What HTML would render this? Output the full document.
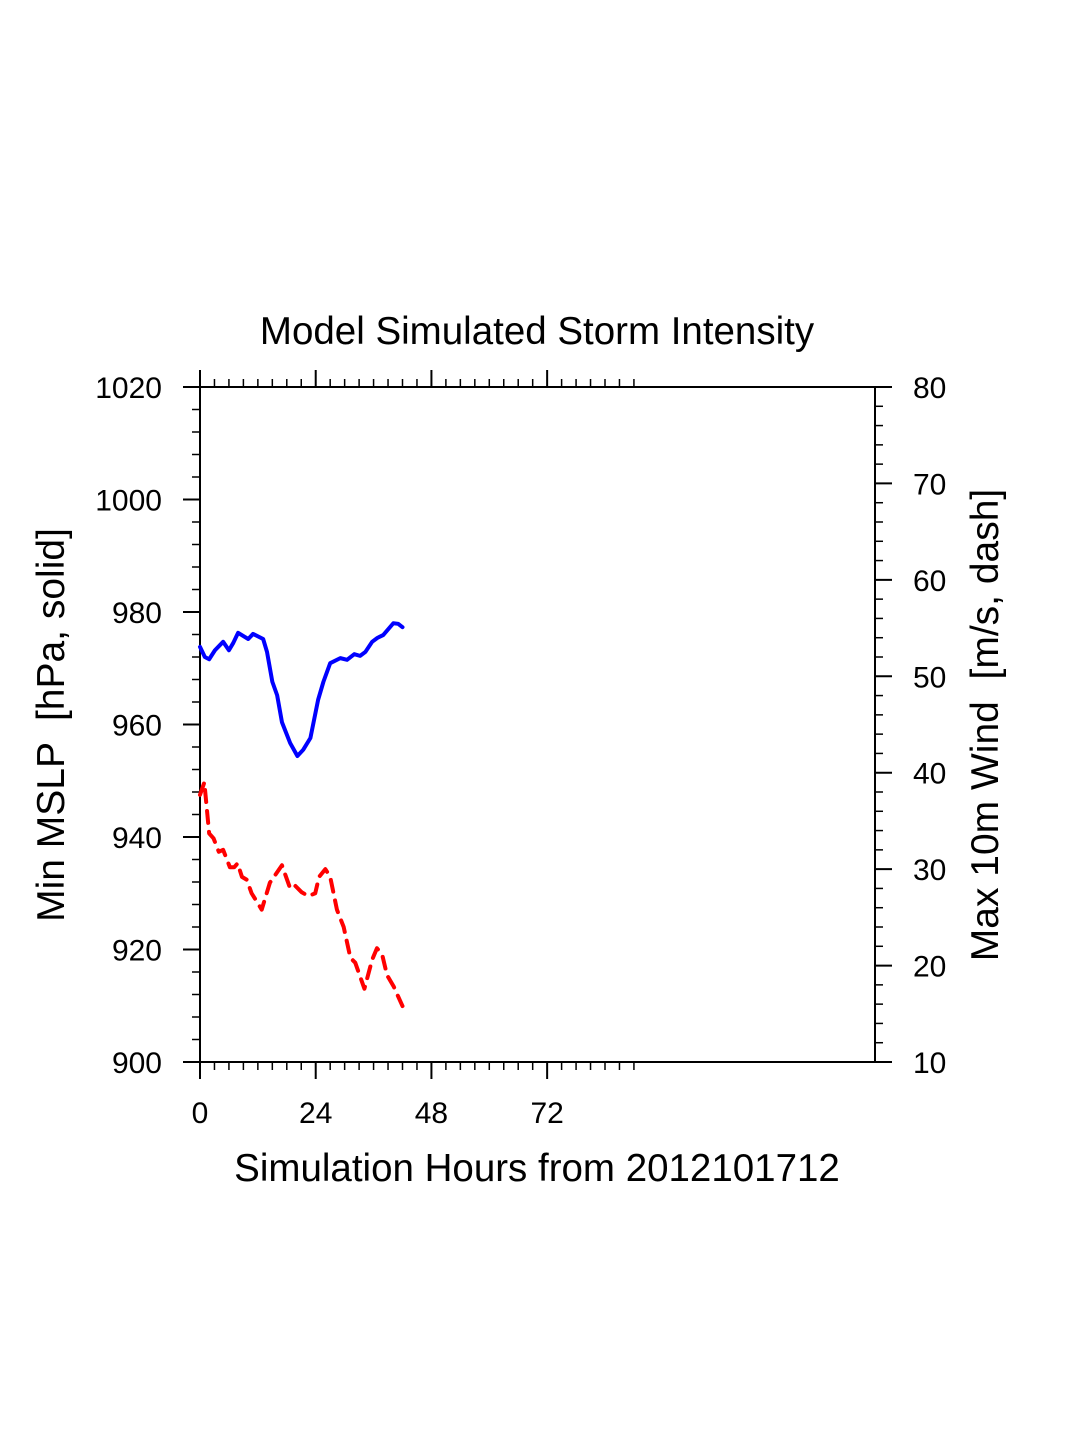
<!DOCTYPE html>
<html><head><meta charset="utf-8"><style>
body{margin:0;background:#fff;}
svg{display:block;font-family:"Liberation Sans",sans-serif;}
</style></head><body>
<svg width="1075" height="1450" viewBox="0 0 1075 1450">
<g id="axes"></g>
<g id="series"></g>
<text x="537" y="344" font-size="38.5" text-anchor="middle">Model Simulated Storm Intensity</text>
<text x="537" y="1181" font-size="38.5" text-anchor="middle">Simulation Hours from 2012101712</text>
<text transform="translate(64,725) rotate(-90)" font-size="39" text-anchor="middle">Min MSLP &#160;[hPa, solid]</text>
<text transform="translate(998,725) rotate(-90)" font-size="39" text-anchor="middle">Max 10m Wind &#160;[m/s, dash]</text>
</svg>
<script>
const mslpHours=[0,1,1.9,3.1,4.8,6,6.9,7.9,10,11,13.1,13.9,15,16,17,18.7,20.2,21.4,22.9,24.5,25.6,27,29.1,30.5,32,33.2,34.3,35.7,36.8,38,40.1,41.1,42];
const mslpValues=[973.8,972,971.6,973.2,974.7,973.2,974.5,976.3,975.2,976.1,975.2,972.9,967.6,965.2,960.4,956.7,954.4,955.5,957.6,964.4,967.6,970.9,971.8,971.5,972.5,972.2,972.9,974.7,975.4,975.9,978,977.9,977.3];
const windHours=[0,0.9,1.9,2.8,3.9,4.8,6.2,7.1,7.8,8.7,9.7,10.7,12.8,14.5,17,18.7,19.7,21.1,22.5,23.9,24.7,26,27,28.4,29.8,31.2,32.2,34.1,35.7,36.7,37.8,38.8,40.2,42];
const windValues=[37.7,39,33.7,33.2,31.8,32,30.2,30.2,30.6,29.2,28.9,27.5,25.8,28.6,30.4,28,28.3,27.6,27.2,27.5,29.2,30,29.2,25.8,24,20.8,20.3,17.6,20.6,21.8,21.1,19,17.8,15.8];
const xMajorTicks=[0,24,48,72];
const leftTicks=[900,920,940,960,980,1000,1020];
const rightTicks=[10,20,30,40,50,60,70,80];

const X0=200,X1=875,Y0=387,Y1=1062;
const xs=h=>X0+(h-0)*(X1-X0)/140;
const yl=p=>Y1-(p-900)*(Y1-Y0)/120;
const yr=w=>Y1-(w-10)*(Y1-Y0)/70;
const NS="http://www.w3.org/2000/svg";
const axes=document.getElementById('axes'),series=document.getElementById('series');
function line(x1,y1,x2,y2,w,name){const l=document.createElementNS(NS,'line');
l.setAttribute('x1',x1);l.setAttribute('y1',y1);l.setAttribute('x2',x2);l.setAttribute('y2',y2);
l.setAttribute('stroke','#000');l.setAttribute('stroke-width',w);


axes.appendChild(l);}
function text(x,y,s,anchor,name){const t=document.createElementNS(NS,'text');
t.setAttribute('x',x);t.setAttribute('y',y);t.setAttribute('font-size','30');t.setAttribute('text-anchor',anchor);t.textContent=s;


axes.appendChild(t);}
const r=document.createElementNS(NS,'rect');
r.setAttribute('x',X0);r.setAttribute('y',Y0);r.setAttribute('width',X1-X0);r.setAttribute('height',Y1-Y0);
r.setAttribute('fill','none');r.setAttribute('stroke','#000');r.setAttribute('stroke-width','2');


axes.appendChild(r);
for(let h=3;h<=90;h+=3){if(h%24===0)continue;const x=xs(h);
line(x,Y1,x,Y1+8,1.5,'x-minor-tick');line(x,Y0,x,Y0-8,1.5,'x-minor-tick-top');}
xMajorTicks.forEach(h=>{const x=xs(h);line(x,Y1,x,Y1+17,2,'x-major-tick');line(x,Y0,x,Y0-17,2,'x-major-tick-top');
text(x,1123,String(h),'middle','x-tick-label');});
for(let p=904;p<1020;p+=4){if(p%20===0)continue;line(X0,yl(p),X0-8,yl(p),1.5,'left-minor-tick');}
leftTicks.forEach(p=>{line(X0,yl(p),X0-17,yl(p),2,'left-major-tick');text(162,yl(p)+11,String(p),'end','left-tick-label');});
for(let w=12;w<80;w+=2){if(w%10===0)continue;line(X1,yr(w),X1+8,yr(w),1.5,'right-minor-tick');}
rightTicks.forEach(w=>{line(X1,yr(w),X1+17,yr(w),2,'right-major-tick');text(913,yr(w)+11,String(w),'start','right-tick-label');});
function poly(hs,vs,yf,color,dash,name){const p=document.createElementNS(NS,'polyline');
p.setAttribute('points',hs.map((h,i)=>xs(h)+','+yf(vs[i])).join(' '));
p.setAttribute('fill','none');p.setAttribute('stroke',color);p.setAttribute('stroke-width','4');
p.setAttribute('stroke-linejoin','round');p.setAttribute('stroke-linecap','round');
if(dash)p.setAttribute('stroke-dasharray',dash);


series.appendChild(p);}
poly(mslpHours,mslpValues,yl,'#0000ff',null,'mslp-line');
poly(windHours,windValues,yr,'#ff0000','12 9','wind-line');
</script>
</body></html>
